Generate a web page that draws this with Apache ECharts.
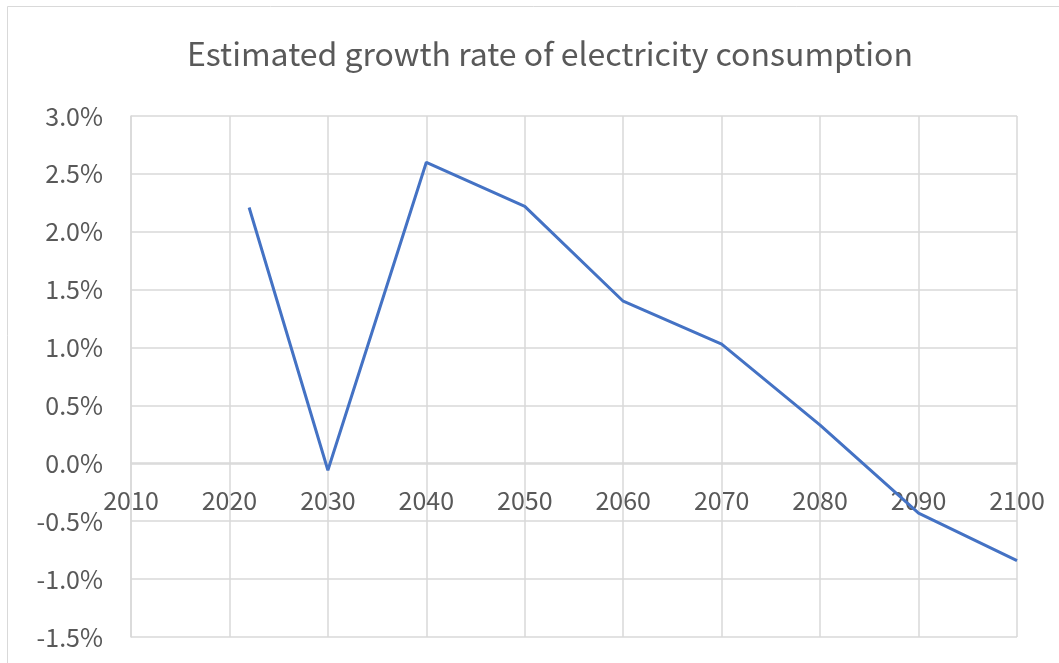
<!DOCTYPE html>
<html>
<head>
<meta charset="utf-8">
<script src="https://cdn.jsdelivr.net/npm/echarts@6/dist/echarts.min.js"></script>
<style>
  html, body { margin: 0; padding: 0; background: #fff; }
  #chart { width: 1059px; height: 663px; }
</style>
</head>
<body>
<div id="chart"></div>
<script>
// 数据 (从图上读取, 单位: %)
const years = [2022, 2030, 2040, 2050, 2060, 2070, 2080, 2090, 2100]
const growthRate = [2.21, -0.06, 2.60, 2.22, 1.40, 1.03, 0.33, -0.43, -0.84]
const chartTitle = 'Estimated growth rate of electricity consumption'

const chart = echarts.init(document.getElementById('chart'))
const font = '"Noto Sans CJK TC", "Open Sans", sans-serif'
const gridColor = '#d9d9d9'
const textColor = '#595959'

const option = {
  backgroundColor: '#fff',
  animation: false,
  title: {
    text: chartTitle,
    left: 182,
    top: 33,
    textStyle: { fontFamily: font, fontSize: 32, fontWeight: 'normal', color: textColor }
  },
  // grid 0: 主绘图区; grid 1: 只用来把年份标签放在 0% 线下面
  grid: [
    { left: 131, right: 42, top: 116, bottom: 26, outerBoundsMode: 'none' },
    { left: 131, right: 42, top: 116, height: 347, outerBoundsMode: 'none' }
  ],
  xAxis: [
    {
      type: 'value', gridIndex: 0,
      min: 2010, max: 2100, interval: 10,
      axisLine: { show: false },
      axisTick: { show: false },
      axisLabel: { show: false },
      splitLine: { show: true, lineStyle: { color: gridColor, width: 1.5 } }
    },
    {
      type: 'value', gridIndex: 1,
      min: 2010, max: 2100, interval: 10,
      axisLine: { show: true, onZero: false, lineStyle: { color: gridColor, width: 1.5 } },
      axisTick: { show: false },
      axisLabel: { color: textColor, fontFamily: font, fontSize: 25, margin: 25, formatter: (v) => String(v) },
      splitLine: { show: false }
    }
  ],
  yAxis: [
    {
      type: 'value', gridIndex: 0,
      min: -1.5, max: 3.0, interval: 0.5,
      axisLine: { show: true, onZero: false, lineStyle: { color: gridColor, width: 1.5 } },
      axisTick: { show: false },
      axisLabel: {
        color: textColor, fontFamily: font, fontSize: 25, margin: 28,
        formatter: (v) => v.toFixed(1) + '%'
      },
      splitLine: { show: true, lineStyle: { color: gridColor, width: 1.5 } }
    },
    {
      type: 'value', gridIndex: 1,
      min: 0, max: 3.0, interval: 0.5,
      show: false
    }
  ],
  series: [
    {
      type: 'line',
      xAxisIndex: 0, yAxisIndex: 0,
      data: years.map((y, i) => [y, growthRate[i]]),
      symbol: 'none',
      lineStyle: { color: '#4472c4', width: 3 },
      z: 5
    }
  ],
  graphic: [
    {
      type: 'rect',
      shape: { x: 7.5, y: 6.5, width: 1060, height: 670 },
      style: { fill: 'none', stroke: gridColor, lineWidth: 1 },
      silent: true
    }
  ]
}
chart.setOption(option)
</script>
</body>
</html>
